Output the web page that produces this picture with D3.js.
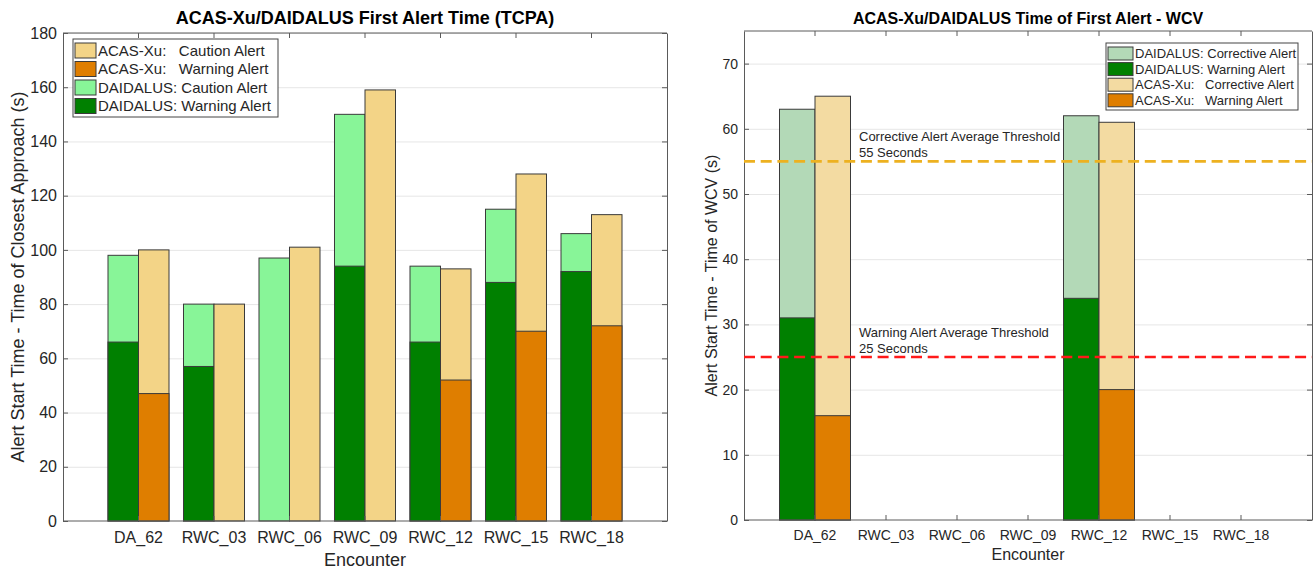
<!DOCTYPE html>
<html><head><meta charset="utf-8">
<script src="https://cdn.jsdelivr.net/npm/d3@7"></script>
<style>
html,body{margin:0;padding:0;background:#fff;}
svg{display:block;font-family:"Liberation Sans",Arial,Helvetica,sans-serif;}
</style></head><body>
<svg id="chart" width="1315" height="569"></svg>
<script>
// ---------------- DATA ----------------
const categories = ["DA_62", "RWC_03", "RWC_06", "RWC_09", "RWC_12", "RWC_15", "RWC_18"];

// Left panel: first alert time relative to TCPA (s)
const tcpaDaidalusCaution = [98, 80, 97, 150, 94, 115, 106];
const tcpaDaidalusWarning = [66, 57, 0, 94, 66, 88, 92];
const tcpaAcasCaution     = [100, 80, 101, 159, 93, 128, 113];
const tcpaAcasWarning     = [47, 0, 0, 0, 52, 70, 72];
const tcpaTicks = [0, 20, 40, 60, 80, 100, 120, 140, 160, 180];
const tcpaLegendLabels = ["ACAS-Xu:   Caution Alert", "ACAS-Xu:   Warning Alert", "DAIDALUS: Caution Alert", "DAIDALUS: Warning Alert"];

// Right panel: first alert time relative to WCV (s)
const wcvDaidalusCorrective = [63, 0, 0, 0, 62, 0, 0];
const wcvDaidalusWarning    = [31, 0, 0, 0, 34, 0, 0];
const wcvAcasCorrective     = [65, 0, 0, 0, 61, 0, 0];
const wcvAcasWarning        = [16, 0, 0, 0, 20, 0, 0];
const wcvTicks = [0, 10, 20, 30, 40, 50, 60, 70];
const wcvLegendLabels = ["DAIDALUS: Corrective Alert", "DAIDALUS: Warning Alert", "ACAS-Xu:   Corrective Alert", "ACAS-Xu:   Warning Alert"];
const thresholdValues = [55, 25];
const thresholdLabels = [["Corrective Alert Average Threshold", "55 Seconds"], ["Warning Alert Average Threshold", "25 Seconds"]];

// ---------------- STYLE ----------------
const C = {
  dCaution: "#88f598", dWarn: "#008000", aCaution: "#f3d487", aWarn: "#df7e00",
  dCorr: "#b3d9b7", aCorr: "#f3dba2", thrOrange: "#edb120", thrRed: "#ff1a1a",
  axis: "#5a5a5a", grid: "#e6e6e6", text: "#262626", edge: "#3a3a3a"
};

const svg = d3.select("#chart");

function panel(cfg) {
  const g = svg.append("g");
  const x = d3.scaleBand().domain(categories).range([cfg.x0, cfg.x1]).paddingInner(0).paddingOuter(0.5);
  const y = d3.scaleLinear().domain([0, cfg.yMax]).range([cfg.y1, cfg.y0]);
  const W = cfg.x1 - cfg.x0, H = cfg.y1 - cfg.y0;

  // grid
  const grid = g.append("g").attr("transform", `translate(${cfg.x0},0)`)
    .call(d3.axisLeft(y).tickValues(cfg.ticks.filter(t => t > 0)).tickSize(-W).tickFormat(""));
  grid.select(".domain").remove();
  grid.selectAll("line").attr("stroke", C.grid).attr("stroke-width", 1);

  // bars
  const bw = x.bandwidth() * cfg.barFrac;
  cfg.groups.forEach(grp => {
    grp.layers.forEach(layer => {
      g.append("g").selectAll("rect").data(categories.map((c, i) => ({c, v: layer.values[i]})).filter(d => d.v > 0))
        .join("rect")
        .attr("x", d => x(d.c) + x.bandwidth() / 2 + (grp.side < 0 ? -bw : 0))
        .attr("width", bw)
        .attr("y", d => y(d.v))
        .attr("height", d => y(0) - y(d.v))
        .attr("fill", layer.color)
        .attr("stroke", C.edge).attr("stroke-width", 1);
    });
  });

  // axes
  const axL = g.append("g").attr("transform", `translate(${cfg.x0},0)`)
    .call(d3.axisLeft(y).tickValues(cfg.ticks).tickSizeInner(-5).tickSizeOuter(0).tickPadding(6));
  const axR = g.append("g").attr("transform", `translate(${cfg.x1},0)`)
    .call(d3.axisRight(y).tickValues(cfg.ticks).tickSizeInner(-5).tickSizeOuter(0).tickFormat(""));
  const axB = g.append("g").attr("transform", `translate(0,${cfg.y1})`)
    .call(d3.axisBottom(x).tickSizeInner(-5).tickSizeOuter(0).tickPadding(cfg.xPad));
  const axT = g.append("g").attr("transform", `translate(0,${cfg.y0})`)
    .call(d3.axisTop(x).tickSizeInner(-5).tickSizeOuter(0).tickFormat(""));
  [axL, axR, axB, axT].forEach(a => {
    a.selectAll(".domain").attr("stroke", C.axis);
    a.selectAll(".tick line").attr("stroke", C.axis);
    a.selectAll("text").attr("fill", C.text).style("font-size", cfg.tickFont + "px").style("font-family", "inherit");
  });
  // extend bottom/top domain lines to corners
  axB.select(".domain").attr("d", `M${cfg.x0},0H${cfg.x1}`);
  axT.select(".domain").attr("d", `M${cfg.x0},0H${cfg.x1}`);

  // labels
  svg.append("text").attr("x", (cfg.x0 + cfg.x1) / 2).attr("y", cfg.titleY)
    .attr("text-anchor", "middle").attr("font-weight", "bold").attr("font-size", cfg.titleFont)
    .attr("fill", "#000").text(cfg.title);
  svg.append("text").attr("x", (cfg.x0 + cfg.x1) / 2).attr("y", cfg.xLabelY)
    .attr("text-anchor", "middle").attr("font-size", cfg.labelFont).attr("fill", C.text).text("Encounter");
  svg.append("text").attr("transform", `translate(${cfg.yLabelX},${(cfg.y0 + cfg.y1) / 2}) rotate(-90)`)
    .attr("text-anchor", "middle").attr("font-size", cfg.labelFont).attr("fill", C.text).text(cfg.yLabel);

  return {g, x, y};
}

function legend(cfg) {
  const g = svg.append("g");
  g.append("rect").attr("x", cfg.x).attr("y", cfg.y).attr("width", cfg.w).attr("height", cfg.h)
    .attr("fill", "#fff").attr("stroke", "#444").attr("stroke-width", 1);
  cfg.items.forEach((it, i) => {
    const cy = cfg.y + cfg.first + i * cfg.pitch;
    g.append("rect").attr("x", cfg.x + 2).attr("y", cy - cfg.sh / 2).attr("width", cfg.sw).attr("height", cfg.sh)
      .attr("fill", it.color).attr("stroke", C.edge).attr("stroke-width", 1);
    g.append("text").attr("x", cfg.x + 4 + cfg.sw).attr("y", cy).attr("dy", "0.35em")
      .attr("font-size", cfg.font).attr("fill", C.text).attr("xml:space", "preserve").style("white-space", "pre")
      .text(it.label);
  });
}

// ---------------- LEFT PANEL ----------------
panel({
  x0: 63, x1: 667, y0: 33, y1: 521, yMax: 180, ticks: tcpaTicks, barFrac: 0.404,
  tickFont: 16, labelFont: 18, titleFont: 18, xPad: 11,
  titleY: 24, xLabelY: 566, yLabelX: 24,
  title: "ACAS-Xu/DAIDALUS First Alert Time (TCPA)",
  yLabel: "Alert Start Time - Time of Closest Approach (s)",
  groups: [
    {side: -1, layers: [{values: tcpaDaidalusCaution, color: C.dCaution}, {values: tcpaDaidalusWarning, color: C.dWarn}]},
    {side: 1, layers: [{values: tcpaAcasCaution, color: C.aCaution}, {values: tcpaAcasWarning, color: C.aWarn}]}
  ]
});
legend({
  x: 73, y: 39, w: 205, h: 78, first: 11.5, pitch: 18.5, sw: 21, sh: 15, font: 15,
  items: [
    {label: tcpaLegendLabels[0], color: C.aCaution},
    {label: tcpaLegendLabels[1], color: C.aWarn},
    {label: tcpaLegendLabels[2], color: C.dCaution},
    {label: tcpaLegendLabels[3], color: C.dWarn}
  ]
});

// ---------------- RIGHT PANEL ----------------
const R = panel({
  x0: 744, x1: 1312, y0: 31, y1: 520, yMax: 75, ticks: wcvTicks, barFrac: 0.5,
  tickFont: 14, labelFont: 16, titleFont: 16, xPad: 10,
  titleY: 24, xLabelY: 560, yLabelX: 717,
  title: "ACAS-Xu/DAIDALUS Time of First Alert - WCV",
  yLabel: "Alert Start Time - Time of WCV (s)",
  groups: [
    {side: -1, layers: [{values: wcvDaidalusCorrective, color: C.dCorr}, {values: wcvDaidalusWarning, color: C.dWarn}]},
    {side: 1, layers: [{values: wcvAcasCorrective, color: C.aCorr}, {values: wcvAcasWarning, color: C.aWarn}]}
  ]
});

// thresholds
const thrColors = [C.thrOrange, C.thrRed];
thresholdValues.forEach((v, i) => {
  svg.append("line").attr("x1", 744).attr("x2", 1312).attr("y1", R.y(v)).attr("y2", R.y(v))
    .attr("stroke", thrColors[i]).attr("stroke-width", 2.6).attr("stroke-dasharray", "11,5.7");
  const t = svg.append("text").attr("x", 859).attr("y", R.y(v) - 20).attr("font-size", 13).attr("fill", C.text);
  t.append("tspan").attr("x", 859).text(thresholdLabels[i][0]);
  t.append("tspan").attr("x", 859).attr("dy", 16).text(thresholdLabels[i][1]);
});

legend({
  x: 1106, y: 43, w: 192, h: 67, first: 10.5, pitch: 15.6, sw: 25, sh: 13, font: 13,
  items: [
    {label: wcvLegendLabels[0], color: C.dCorr},
    {label: wcvLegendLabels[1], color: C.dWarn},
    {label: wcvLegendLabels[2], color: C.aCorr},
    {label: wcvLegendLabels[3], color: C.aWarn}
  ]
});
</script>
</body></html>
